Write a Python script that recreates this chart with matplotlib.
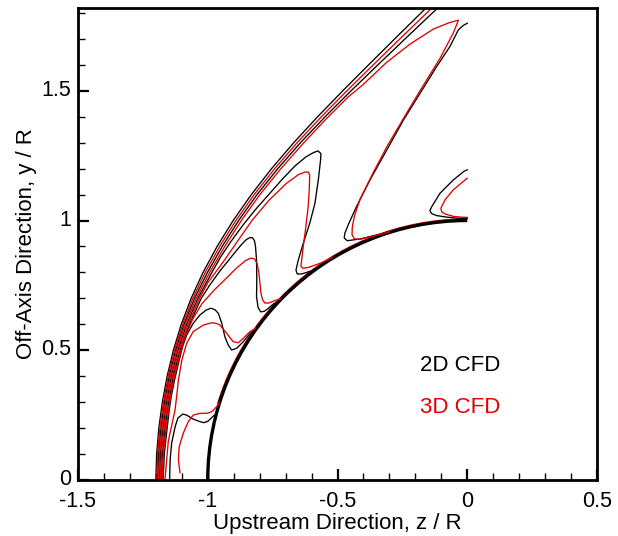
import matplotlib
matplotlib.use("Agg")
import matplotlib.pyplot as plt
from matplotlib.patches import Arc
from matplotlib.ticker import MultipleLocator, FuncFormatter
from matplotlib.transforms import ScaledTranslation

plt.rcParams['font.family'] = ['Liberation Sans', 'DejaVu Sans']
plt.rcParams['axes.unicode_minus'] = False

BLACK = '#000000'
RED = '#e00000'

# ---------------- data (z/R, y/R) -----------------------------------------
y_levels = [0, 0.1, 0.2, 0.3, 0.4, 0.5, 0.6, 0.7, 0.8, 0.9, 1.0, 1.1, 1.2, 1.3, 1.4, 1.5, 1.6, 1.7, 1.8, 1.83]

# 2D CFD shock contours that leave through the top
b_out1_x = [-1.200, -1.197, -1.1885, -1.175, -1.1565, -1.1325, -1.102, -1.064, -1.018, -0.964,
            -0.902, -0.832, -0.754, -0.6685, -0.5765, -0.4795, -0.380, -0.2795, -0.178, -0.1474]
b_out2_x = [-1.193, -1.1896, -1.1805, -1.1668, -1.1485, -1.1239, -1.0916, -1.051, -1.001, -0.9444,
            -0.881, -0.810, -0.730, -0.6425, -0.5475, -0.4475, -0.344, -0.2395, -0.134, -0.1014]
# 3D CFD shock contour that leaves through the top
r_out1_x = [-1.1965, -1.1933, -1.1845, -1.1709, -1.1525, -1.1282, -1.0968, -1.0575, -1.0095, -0.9542,
            -0.8915, -0.821, -0.742, -0.6555, -0.562, -0.4635, -0.362, -0.2595, -0.156, -0.1244]

# 3D CFD "V" contour
r_v_x = [-1.1895, -1.1859, -1.1765, -1.1627, -1.1445, -1.1196, -1.0864, -1.0445, -0.9925, -0.9346,
         -0.8705, -0.799, -0.718, -0.6295,
         -0.548, -0.46, -0.40, -0.31, -0.22, -0.13, -0.07, -0.034,
         -0.054, -0.105, -0.182, -0.233, -0.310, -0.362, -0.413, -0.434, -0.443, -0.444, -0.435, -0.415,
         -0.37, -0.30]
r_v_y = [0, 0.1, 0.2, 0.3, 0.4, 0.5, 0.6, 0.7, 0.8, 0.9,
         1.0, 1.1, 1.2, 1.3,
         1.387, 1.475, 1.525, 1.610, 1.680, 1.738, 1.762, 1.772,
         1.722, 1.625, 1.500, 1.415, 1.284, 1.185, 1.082, 1.020, 0.975, 0.945, 0.930, 0.927,
         0.938, 0.956]

# 2D CFD diagonal contour reaching the axis
b_v_x = [0.0, -0.015, -0.034, -0.067, -0.118, -0.182, -0.246, -0.310, -0.375, -0.427, -0.458, -0.472,
         -0.474, -0.462, -0.413, -0.35, -0.30]
b_v_y = [1.760, 1.752, 1.735, 1.670, 1.593, 1.490, 1.387, 1.272, 1.156, 1.053, 0.985, 0.950,
         0.932, 0.922, 0.929, 0.944, 0.956]

# 2D CFD zig-zag contour 4
b_z4_x = [-1.186, -1.1822, -1.1725, -1.1586, -1.1405, -1.1153, -1.0812, -1.038, -0.984,
          -0.950, -0.910, -0.866, -0.818, -0.765, -0.712, -0.664, -0.622, -0.592, -0.575, -0.564, -0.565,
          -0.574, -0.587, -0.607, -0.632, -0.651, -0.660, -0.655, -0.638, -0.600, -0.567]
b_z4_y = [0, 0.1, 0.2, 0.3, 0.4, 0.5, 0.6, 0.7, 0.8,
          0.86, 0.92, 0.98, 1.04, 1.10, 1.16, 1.21, 1.245, 1.262, 1.268, 1.258, 1.235,
          1.156, 1.066, 0.989, 0.912, 0.848, 0.809, 0.794, 0.794, 0.806, 0.822]
# 3D CFD zig-zag contour 4
r_z4_x = [-1.1825, -1.1785, -1.1685, -1.1545, -1.1365, -1.111, -1.076, -1.0315, -1.000, -0.963,
          -0.935, -0.882, -0.828, -0.763, -0.697, -0.650, -0.627, -0.613,
          -0.607, -0.609, -0.613, -0.622, -0.632, -0.638, -0.641, -0.634, -0.613, -0.567, -0.52]
r_z4_y = [0, 0.1, 0.2, 0.3, 0.4, 0.5, 0.6, 0.7, 0.76, 0.81,
          0.848, 0.925, 1.002, 1.079, 1.143, 1.177, 1.186, 1.187,
          1.175, 1.117, 1.053, 0.976, 0.899, 0.848, 0.825, 0.816, 0.819, 0.835, 0.857]

# 2D CFD zig-zag contour 3
b_z3_x = [-1.179, -1.1748, -1.1645, -1.1504, -1.1325, -1.1067, -1.0708, -1.025, -0.993, -0.950, -0.925,
          -0.897, -0.872, -0.852, -0.838, -0.828, -0.820, -0.816, -0.812, -0.811, -0.812, -0.806, -0.796,
          -0.782, -0.765, -0.745, -0.73]
b_z3_y = [0, 0.1, 0.2, 0.3, 0.4, 0.5, 0.6, 0.7, 0.75, 0.81, 0.84,
          0.875, 0.905, 0.926, 0.934, 0.934, 0.922, 0.900, 0.848, 0.771, 0.706, 0.665, 0.648,
          0.650, 0.663, 0.680, 0.686]
# 3D CFD zig-zag contour 3
r_z3_x = [-1.1755, -1.1711, -1.1605, -1.1463, -1.1285, -1.1024, -1.088, -1.058, -1.022, -0.975, -0.935,
          -0.890, -0.855, -0.834, -0.820, -0.810, -0.803, -0.799, -0.795, -0.789, -0.780, -0.765, -0.745,
          -0.718]
r_z3_y = [0, 0.1, 0.2, 0.3, 0.4, 0.5, 0.55, 0.62, 0.68, 0.732, 0.771,
          0.816, 0.845, 0.855, 0.852, 0.835, 0.800, 0.760, 0.720, 0.695, 0.682, 0.682, 0.690,
          0.699]

# 2D CFD zig-zag contour 2
b_z2_x = [-1.172, -1.1674, -1.1565, -1.1484, -1.141, -1.128, -1.113, -1.097, -1.081, -1.056, -1.030,
          -1.006, -0.987, -0.972, -0.959, -0.946, -0.934, -0.921, -0.908, -0.888, -0.863, -0.837, -0.82]
b_z2_y = [0, 0.1, 0.2, 0.27, 0.321, 0.385, 0.45, 0.514, 0.559, 0.604, 0.636,
          0.655, 0.662, 0.656, 0.642, 0.604, 0.552, 0.520, 0.501, 0.508, 0.533, 0.565, 0.578]
# 3D CFD zig-zag contour 2
r_z2_x = [-1.165, -1.152, -1.126, -1.120, -1.113, -1.100, -1.081, -1.056, -1.017, -0.985, -0.965,
          -0.953, -0.927, -0.902, -0.882, -0.863, -0.838, -0.815]
r_z2_y = [0, 0.15, 0.270, 0.321, 0.385, 0.462, 0.527, 0.572, 0.597, 0.606, 0.603,
          0.597, 0.565, 0.533, 0.529, 0.546, 0.571, 0.585]

# 2D CFD zig-zag contour 1
b_z1_x = [-1.147, -1.145, -1.139, -1.126, -1.115, -1.096, -1.081, -1.057, -1.030, -1.015, -1.000, -0.985, -0.968]
b_z1_y = [0, 0.077, 0.143, 0.204, 0.239, 0.254, 0.250, 0.235, 0.225, 0.221, 0.226, 0.240, 0.256]
# 3D CFD zig-zag contour 1
r_z1_x = [-1.107, -1.113, -1.110, -1.094, -1.075, -1.056, -1.030, -1.004, -0.985, -0.966, -0.955]
r_z1_y = [0.028, 0.077, 0.128, 0.181, 0.225, 0.250, 0.257, 0.257, 0.263, 0.282, 0.300]

# small loops near the axis above the body
b_cap_x = [0.0, -0.012, -0.054, -0.105, -0.137, -0.144, -0.138, -0.118, -0.079, -0.04, 0.0]
b_cap_y = [1.195, 1.190, 1.156, 1.105, 1.053, 1.038, 1.027, 1.019, 1.013, 1.009, 1.008]
r_cap_x = [0.0, -0.054, -0.086, -0.102, -0.098, -0.085, -0.054, -0.025, 0.0]
r_cap_y = [1.163, 1.118, 1.079, 1.047, 1.033, 1.025, 1.016, 1.013, 1.012]

# body (unit sphere) and legend
body_radius = 1.0
red_wall_radius = 1.006
legend_labels = ['2D CFD', '3D CFD']
x_ticks = [-1.5, -1, -0.5, 0, 0.5]
y_ticks = [0, 0.5, 1, 1.5]

# ---------------- figure -----------------
fig = plt.figure(figsize=(6.18, 5.36), dpi=100)
ax = fig.add_axes([78 / 618, 56 / 536, 519 / 618, 472 / 536])

LW = 0.95
black_lines = [(b_out1_x, y_levels), (b_out2_x, y_levels), (b_v_x, b_v_y), (b_z4_x, b_z4_y),
               (b_z3_x, b_z3_y), (b_z2_x, b_z2_y), (b_z1_x, b_z1_y), (b_cap_x, b_cap_y)]
red_lines = [(r_out1_x, y_levels), (r_v_x, r_v_y), (r_z4_x, r_z4_y), (r_z3_x, r_z3_y),
             (r_z2_x, r_z2_y), (r_z1_x, r_z1_y), (r_cap_x, r_cap_y)]

for xs, ys in black_lines:
    ax.plot(xs, ys, color=BLACK, lw=LW, solid_joinstyle='round')
for xs, ys in red_lines:
    ax.plot(xs, ys, color=RED, lw=LW, solid_joinstyle='round')

ax.add_patch(Arc((0, 0), 2 * red_wall_radius, 2 * red_wall_radius, theta1=90, theta2=163,
                 color=RED, lw=LW))
ax.add_patch(Arc((0, 0), 2 * body_radius, 2 * body_radius, theta1=90, theta2=180,
                 color=BLACK, lw=2.4))

ax.text(-0.182, 0.443, legend_labels[0], color=BLACK, fontsize=16, ha='left', va='center')
ax.text(-0.182, 0.281, legend_labels[1], color=RED, fontsize=16, ha='left', va='center')

ax.set_xlim(-1.5, 0.5)
ax.set_ylim(0, 472 / 259.5)
ax.set_xticks(x_ticks)
ax.set_yticks(y_ticks)
fmt = FuncFormatter(lambda v, p: ('%g' % v))
ax.xaxis.set_major_formatter(fmt)
ax.yaxis.set_major_formatter(fmt)
ax.xaxis.set_minor_locator(MultipleLocator(0.1))
ax.yaxis.set_minor_locator(MultipleLocator(0.1))
ax.tick_params(which='major', direction='in', length=8, width=1.6, labelsize=15.5,
               top=False, right=False)
ax.tick_params(axis='x', which='major', pad=8)
ax.tick_params(axis='y', which='major', pad=5)
ax.tick_params(which='minor', direction='in', length=5, width=1.0, top=False, right=False)
for s in ax.spines.values():
    s.set_linewidth(2.0)

# lift the y tick labels a hair so "0" and "-1.5" do not collide
shift_up = ScaledTranslation(0, 2.0 / 72, fig.dpi_scale_trans)
for lab in ax.get_yticklabels():
    lab.set_transform(lab.get_transform() + shift_up)

ax.set_xlabel('Upstream Direction, z / R', fontsize=16, labelpad=0.5)
ax.set_ylabel('Off-Axis Direction, y / R', fontsize=16, labelpad=3)

fig.savefig('out.png', dpi=100)
